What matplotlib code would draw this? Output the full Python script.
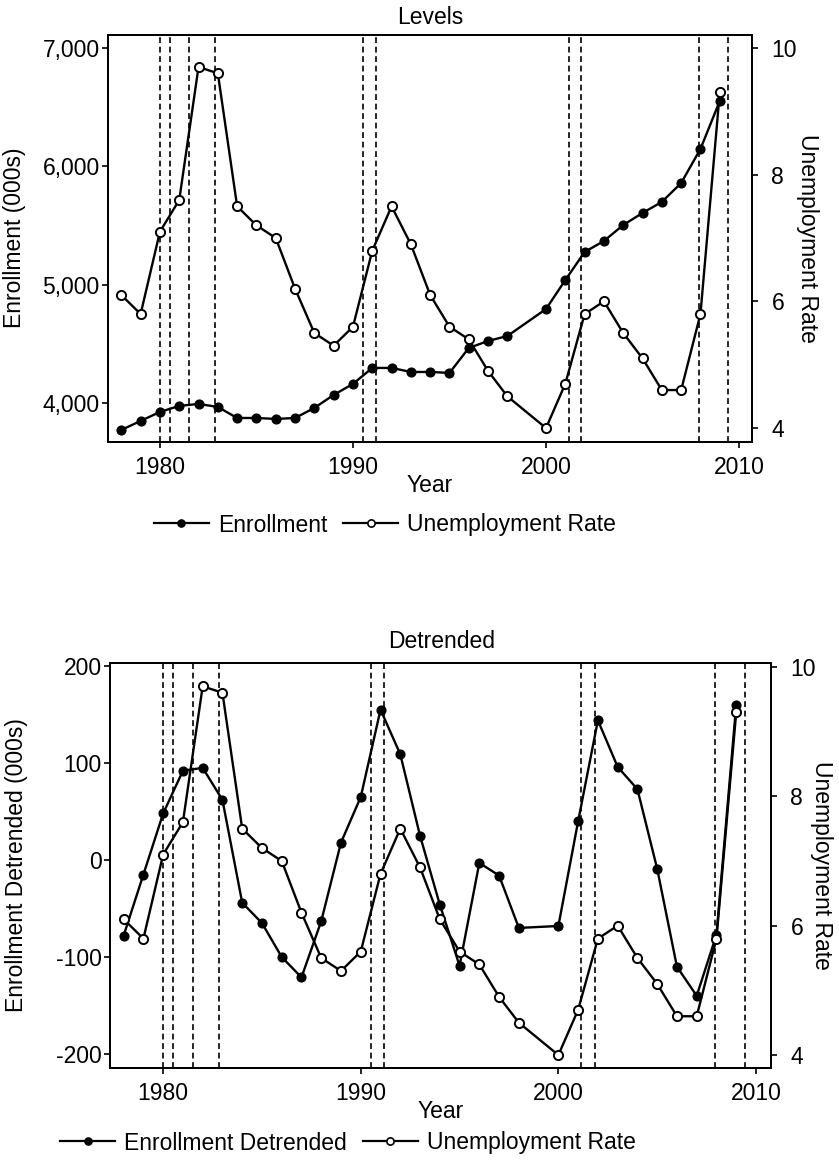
import matplotlib.pyplot as plt
from matplotlib.lines import Line2D

plt.rcParams['font.family'] = ['Liberation Sans', 'DejaVu Sans']

# --- data ---
years = [1978, 1979, 1980, 1981, 1982, 1983, 1984, 1985, 1986, 1987, 1988,
         1989, 1990, 1991, 1992, 1993, 1994, 1995, 1996, 1997, 1998,
         2000, 2001, 2002, 2003, 2004, 2005, 2006, 2007, 2008, 2009]
enrollment = [3772, 3848, 3924, 3975, 3992, 3966, 3873, 3873, 3865, 3873, 3958,
              4068, 4161, 4296, 4296, 4262, 4262, 4254, 4465, 4524, 4566,
              4794, 5039, 5276, 5369, 5504, 5606, 5699, 5859, 6147, 6552]
enroll_detrended = [-78, -15, 48, 92, 95, 62, -44, -65, -100, -121, -63,
                    18, 65, 155, 109, 25, -46, -109, -3, -16, -70,
                    -68, 40, 144, 96, 73, -9, -110, -140, -77, 160]
unemployment = [6.1, 5.8, 7.1, 7.6, 9.7, 9.6, 7.5, 7.2, 7.0, 6.2, 5.5,
                5.3, 5.6, 6.8, 7.5, 6.9, 6.1, 5.6, 5.4, 4.9, 4.5,
                4.0, 4.7, 5.8, 6.0, 5.5, 5.1, 4.6, 4.6, 5.8, 9.3]
recessions = [1980.0, 1980.5, 1981.5, 1982.83, 1990.5, 1991.17,
              2001.17, 2001.83, 2007.92, 2009.42]

xticks = [1980, 1990, 2000, 2010]
levels_ticks = [4000, 5000, 6000, 7000]
levels_labels = ['4,000', '5,000', '6,000', '7,000']
detr_ticks = [-200, -100, 0, 100, 200]
detr_labels = ['-200', '-100', '0', '100', '200']
rate_ticks = [4, 6, 8, 10]

FS = 16.5
W, H = 839, 1165
fig = plt.figure(figsize=(W / 100, H / 100), dpi=100)


def px(x0, y0, x1, y1):
    # pixel box -> figure fraction [left, bottom, width, height]
    return [x0 / W, 1 - y1 / H, (x1 - x0) / W, (y1 - y0) / H]


def style(a):
    for s in a.spines.values():
        s.set_linewidth(1.4)
        s.set_color('black')
    a.tick_params(direction='out', length=4, width=1.2, labelsize=FS, colors='black')


def panel(rect, y, ylim, yticks, ylabels, rlim, xlim):
    ax = fig.add_axes(rect)
    ax.plot(years, y, color='black', lw=1.7, marker='o', ms=6.3,
            mfc='black', mec='black', zorder=3)
    for r in recessions:
        ax.axvline(r, color='black', lw=1.2, ls=(0, (3.5, 2.2)), zorder=2)
    ax.set_xlim(xlim)
    ax.set_ylim(ylim)
    ax.set_xticks(xticks)
    ax.set_yticks(yticks)
    ax.set_yticklabels(ylabels)
    style(ax)
    ax.tick_params(axis='x', pad=6)
    ax.tick_params(axis='y', pad=2)

    ax2 = ax.twinx()
    ax2.plot(years, unemployment, color='black', lw=1.7, marker='o', ms=6.6,
             mfc='white', mec='black', mew=1.4, zorder=3)
    ax2.set_ylim(rlim)
    ax2.set_yticks(rate_ticks)
    style(ax2)
    ax2.tick_params(axis='y', pad=10)
    return ax, ax2


# top panel: levels
panel(px(108, 35, 752, 442), enrollment, (3670, 7110),
      levels_ticks, levels_labels, (3.78, 10.205), (1977.31, 2010.67))
fig.text(430 / W, 1 - 18 / H, 'Levels', ha='center', va='center', fontsize=FS)
fig.text(430 / W, 1 - 486 / H, 'Year', ha='center', va='center', fontsize=FS)
fig.text(15 / W, 1 - 238 / H, 'Enrollment (000s)', ha='center', va='center',
         rotation=90, fontsize=FS)
fig.text(808 / W, 1 - 238 / H, 'Unemployment Rate', ha='center', va='center',
         rotation=-90, fontsize=FS)

# bottom panel: detrended
panel(px(110, 663, 771, 1068), enroll_detrended, (-214.4, 203.1),
      detr_ticks, detr_labels, (3.80, 10.06), (1977.31, 2010.76))
fig.text(442 / W, 1 - 642 / H, 'Detrended', ha='center', va='center', fontsize=FS)
fig.text(441 / W, 1 - 1112 / H, 'Year', ha='center', va='center', fontsize=FS)
fig.text(17 / W, 1 - 865 / H, 'Enrollment Detrended (000s)', ha='center', va='center',
         rotation=90, fontsize=FS)
fig.text(822 / W, 1 - 865 / H, 'Unemployment Rate', ha='center', va='center',
         rotation=-90, fontsize=FS)

# legends
h_fill = Line2D([], [], color='black', lw=1.6, marker='o', ms=5.2, mfc='black', mec='black')
h_open = Line2D([], [], color='black', lw=1.6, marker='o', ms=5.2, mfc='white', mec='black', mew=1.2)

fig.legend([h_fill, h_open], ['Enrollment', 'Unemployment Rate'], loc='center',
           bbox_to_anchor=(385 / W, 1 - 525 / H), ncol=2, frameon=False, fontsize=FS,
           handlelength=2.4, handletextpad=0.4, columnspacing=0.7)
fig.legend([h_fill, h_open], ['Enrollment Detrended', 'Unemployment Rate'], loc='center',
           bbox_to_anchor=(348 / W, 1 - 1143 / H), ncol=2, frameon=False, fontsize=FS,
           handlelength=2.4, handletextpad=0.4, columnspacing=0.7)

plt.savefig('out.png', dpi=100)
